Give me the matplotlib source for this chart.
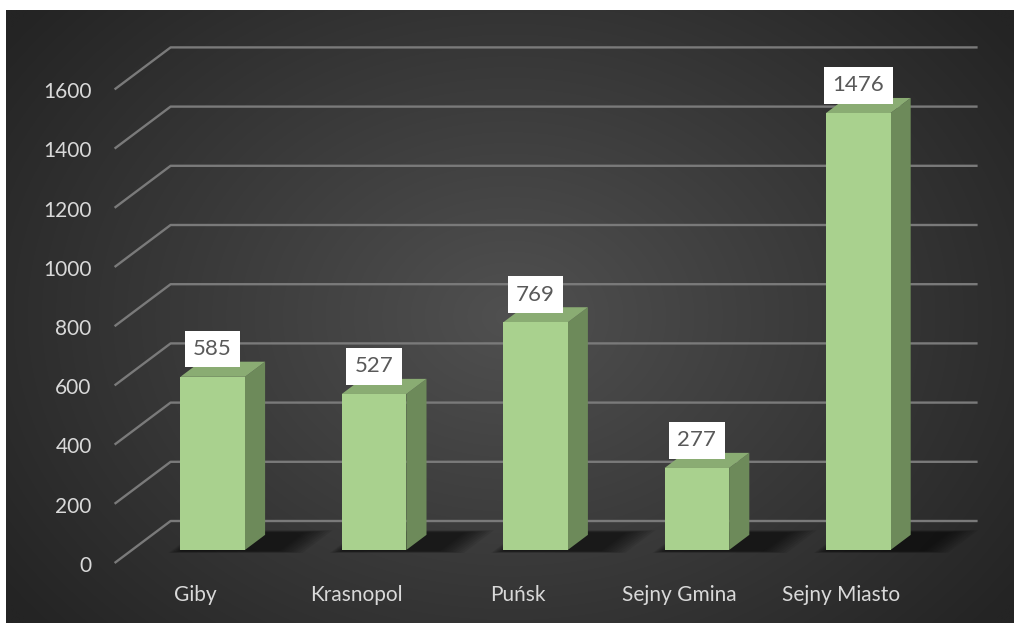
import numpy as np
import matplotlib
matplotlib.use('Agg')
import matplotlib.pyplot as plt
from matplotlib.patches import Polygon

# ---- data ----
categories = ['Giby', 'Krasnopol', 'Puńsk', 'Sejny Gmina', 'Sejny Miasto']
values = [585, 527, 769, 277, 1476]
yticks = [0, 200, 400, 600, 800, 1000, 1200, 1400, 1600]

plt.rcParams['font.family'] = ['Lato', 'DejaVu Sans']

W, H = 1014, 623
fig = plt.figure(figsize=(W / 100, H / 100), dpi=100)
fig.patch.set_facecolor('white')

# ---- background (radial gradient) ----
ax_bg = fig.add_axes([6 / W, 0, 1 - 6 / W, 1 - 10 / H])
ax_bg.set_axis_off()
gy, gx = np.mgrid[0:1:400j, 0:1:650j]
r = np.sqrt(((gx - 0.50) / 0.62) ** 2 + ((gy - 0.50) / 0.78) ** 2)
r = np.clip(r, 0, 1)
c_center = np.array([0x50, 0x50, 0x50]) / 255
c_edge = np.array([0x24, 0x24, 0x24]) / 255
img = c_center[None, None, :] * (1 - r[..., None]) + c_edge[None, None, :] * r[..., None]
ax_bg.imshow(img, aspect='auto', extent=(0, 1, 0, 1), interpolation='bilinear')

# ---- main axes with oblique-projection layout ----
PX_LEFT = 114.6          # front-left corner of floor (px)
CAT_PX = 161.4           # px per category
Y0_PX = 563.0            # y of value 0 at front (px from top)
PX_PER_UNIT = 59.2 / 200 # px per value unit
DX = 56 / CAT_PX         # depth vector in data units
DY = 42 / PX_PER_UNIT

ax = fig.add_axes([0, 0, 1, 1])
ax.set_axis_off()
ax.patch.set_alpha(0)
ax.set_xlim(-0.5 - PX_LEFT / CAT_PX, -0.5 + (W - PX_LEFT) / CAT_PX)
ax.set_ylim(-(H - Y0_PX) / PX_PER_UNIT, Y0_PX / PX_PER_UNIT)

n = len(categories)
grid_c = '#7a7a7a'
for v in yticks:
    ax.plot([-0.5, -0.5 + DX, n - 0.5 + DX], [v, v + DY, v + DY],
            color=grid_c, lw=1.7, solid_capstyle='butt', zorder=1)
    ax.annotate(f'{v}', xy=(-0.5, v), xytext=(-16.5, -2), textcoords='offset points',
                ha='right', va='center', fontsize=15, color='#d9d9d9', zorder=5)

f, b = 0.31, 0.67
w = 0.40
front_c = '#a9d18e'
side_c = '#6d8a5a'
top_c = '#8aac73'

for i, (cat, v) in enumerate(zip(categories, values)):
    xl, xr = i - w / 2, i + w / 2
    # soft shadow on floor
    for k in range(9):
        e = 0.20 - k * 0.022
        sx0 = xl - e * 0.35 + 0.02
        sx1 = xr + 0.20 + e * 0.9
        d0 = f - 0.02 - e * 0.25
        d1 = b + 0.05 + e * 0.3
        pts = [(sx0 + d0 * DX, d0 * DY), (sx1 + d0 * DX, d0 * DY),
               (sx1 + d1 * DX, d1 * DY), (sx0 + d1 * DX, d1 * DY)]
        ax.add_patch(Polygon(pts, closed=True, fc='black', ec='none', alpha=0.075, zorder=2))
    # side face
    side = [(xr + f * DX, f * DY), (xr + b * DX, b * DY),
            (xr + b * DX, v + b * DY), (xr + f * DX, v + f * DY)]
    ax.add_patch(Polygon(side, closed=True, fc=side_c, ec='none', zorder=3))
    # top face
    top = [(xl + f * DX, v + f * DY), (xr + f * DX, v + f * DY),
           (xr + b * DX, v + b * DY), (xl + b * DX, v + b * DY)]
    ax.add_patch(Polygon(top, closed=True, fc=top_c, ec='none', zorder=3))
    # front face
    ax.bar(i + f * DX, v, width=w, bottom=f * DY, color=front_c, zorder=4)
    # data label
    ax.annotate(f'{v}', xy=(i + f * DX, v + f * DY), xytext=(0, 20),
                textcoords='offset points', ha='center', va='center',
                fontsize=16, color='#595959', zorder=6,
                bbox=dict(boxstyle='square,pad=0.38', fc='white', ec='none'))
    # category label
    ax.annotate(cat, xy=(i, 0), xytext=(0, -23), textcoords='offset points',
                ha='center', va='center', fontsize=15, color='#d9d9d9', zorder=5)

fig.savefig('out.png', dpi=100)
